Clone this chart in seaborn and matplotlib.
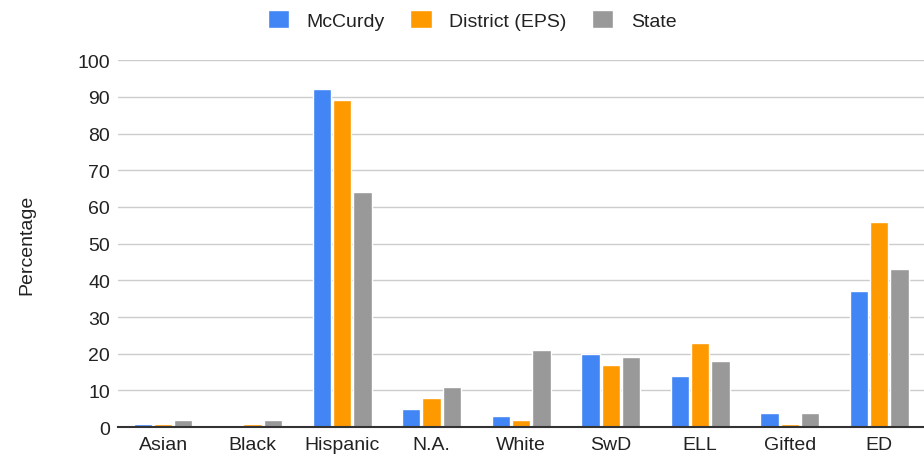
import pandas as pd
import matplotlib.pyplot as plt
import seaborn as sns

# Data
groups = ['Asian', 'Black', 'Hispanic', 'N.A.', 'White', 'SwD', 'ELL', 'Gifted', 'ED']
mccurdy = [1, 0, 92, 5, 3, 20, 14, 4, 37]
district = [1, 1, 89, 8, 2, 17, 23, 1, 56]
state = [2, 2, 64, 11, 21, 19, 18, 4, 43]
series = ['McCurdy', 'District (EPS)', 'State']
colors = ['#4285F4', '#FF9900', '#999999']

df = pd.DataFrame({
    'Group': groups * 3,
    'Series': [series[0]] * 9 + [series[1]] * 9 + [series[2]] * 9,
    'Percentage': mccurdy + district + state,
})

sns.set_theme(style="white")
plt.rcParams['font.family'] = ['Liberation Sans', 'DejaVu Sans']

fig = plt.figure(figsize=(9.24, 4.56), dpi=100)
ax = fig.add_axes([0.128, 0.061, 0.872, 0.805])

sns.barplot(data=df, x='Group', y='Percentage', hue='Series', palette=colors,
            saturation=1, width=0.68, gap=0.1, ax=ax, legend=True)

ax.set_ylim(0, 100)
ax.set_xlim(-0.5, 8.5)
ax.set_yticks(range(0, 101, 10))
ax.yaxis.grid(True, color='#cccccc', linewidth=1)
ax.set_axisbelow(True)
for s in ['top', 'right', 'left']:
    ax.spines[s].set_visible(False)
ax.spines['bottom'].set_color('#333333')
ax.spines['bottom'].set_linewidth(1.5)
ax.tick_params(axis='both', length=0, labelsize=14, colors='#222222', pad=6)
ax.set_xlabel('')
ax.set_ylabel('Percentage', fontsize=14, color='#222222', labelpad=30)

handles, labels = ax.get_legend_handles_labels()
ax.get_legend().remove()
fig.legend(handles, labels, loc='upper center', bbox_to_anchor=(0.511, 1.015), ncol=3,
           frameon=False, fontsize=14, handlelength=1.1, handleheight=1.1,
           columnspacing=1.3, handletextpad=0.9, labelcolor='#222222')

plt.savefig('out.png', dpi=100)
